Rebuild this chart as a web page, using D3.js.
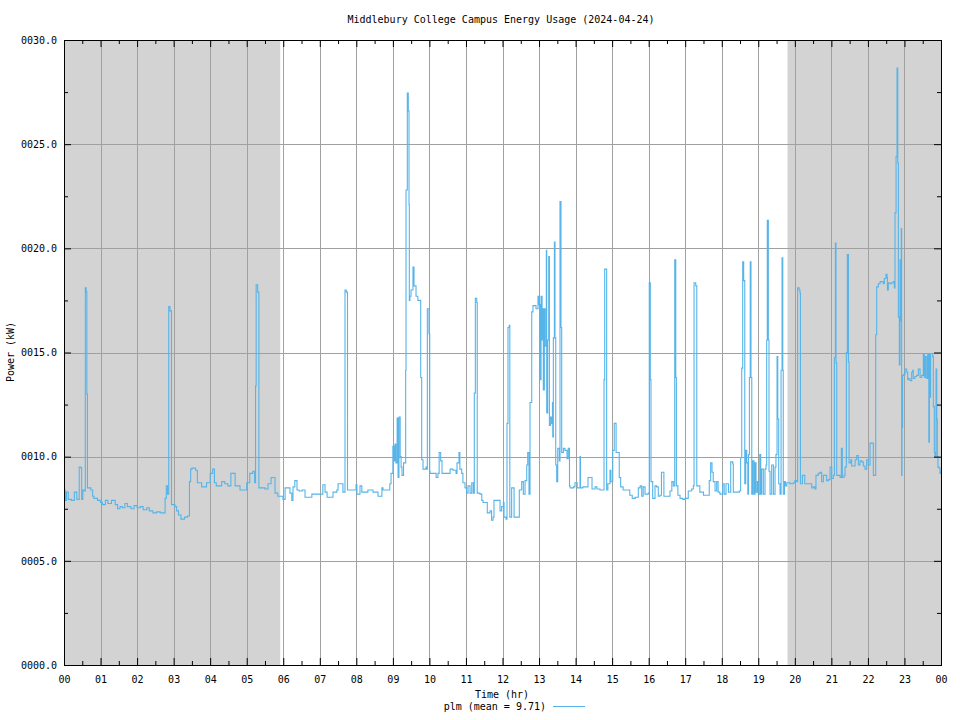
<!DOCTYPE html>
<html>
<head>
<meta charset="utf-8">
<script src="https://cdn.jsdelivr.net/npm/d3@7"></script>
<style>
  html, body { margin: 0; padding: 0; background: #fff; }
  text { font-family: "DejaVu Sans Mono", "Liberation Mono", monospace; font-size: 10px; fill: #000; }
</style>
</head>
<body>
<svg id="chart" width="960" height="720"></svg>
<script>
// ---- data ----
const chartTitle = "Middlebury College Campus Energy Usage (2024-04-24)";
const xLabel = "Time (hr)";
const yLabel = "Power (kW)";
const legendLabel = "plm (mean = 9.71)";
const hourTicks = d3.range(0, 25);          // 00 .. 00
const powerTicks = [0, 5, 10, 15, 20, 25, 30];
// night periods (minutes after midnight) shaded grey
const nightStart = [0, 1188];
const nightEnd = [355, 1440];
// [minute of day, kW]
const samples = [
[0,8.4],[2,7.9],[4,8.3],[7,7.95],[12,7.9],[17,8.3],[21,7.95],[25,9.5],[28,9.45],[29,7.95],[31,8.4],[33,8.35],
[35,18.1],[36.5,17.9],[37.5,13.0],[38.5,8.5],[44,8.4],[47,8.1],[49,8.0],[55,7.9],[60,7.8],[63,7.7],[68,7.9],
[72,7.75],[78,7.9],[84,7.7],[88,7.5],[92,7.6],[96,7.55],[100,7.75],[104,7.6],[110,7.5],[115,7.65],[120,7.55],
[125,7.6],[130,7.45],[136,7.55],[140,7.4],[146,7.3],[152,7.35],[158,7.3],[163,7.3],[166,8.0],[168,8.6],[170,8.2],
[172,17.2],[174,17.0],[176.5,7.7],[178,7.7],[182,7.6],[185,7.4],[188,7.2],[192,7.0],[198,7.1],[203,7.15],[206,8.8],
[208,9.4],[210,9.45],[216,9.35],[219,8.75],[226,8.55],[234,8.75],[240,9.2],[244,9.4],[247,8.75],[250,8.6],
[259,8.8],[264,8.7],[269,8.6],[274,9.2],[278,9.2],[281,8.6],[289,8.4],[294,8.4],[300,8.75],[305,9.2],[310,9.3],
[313,8.75],[314.5,13.4],[315.5,18.25],[318,17.9],[320,8.5],[327,8.5],[330,8.45],[335,8.7],[340,9.0],[343,9.0],
[346.5,8.25],[351,8.1],[358,8.1],[359.6,7.95],[363,8.5],[368,8.5],[371,8.25],[374,7.9],[376,8.55],[379,8.85],
[382.6,8.4],[386,8.35],[391,8.4],[395.7,8.05],[404,8.05],[407,8.2],[420,8.2],[425,8.65],[428.6,8.3],[432,8.05],
[440,8.05],[441.7,8.3],[448,8.4],[450,8.7],[456.5,8.7],[458,8.3],[461.4,18.0],[463.5,17.9],[465.5,8.4],[478,8.4],
[479.5,8.65],[481,8.2],[486,8.6],[489,8.3],[497.5,8.3],[499,8.4],[505.7,8.4],[507.4,8.3],[514,8.3],[515.6,8.1],
[519,8.1],[522,8.5],[523.8,8.4],[532,8.4],[535,8.7],[537,9.2],[540,10.5],[542,9.8],[543.5,10.6],[545,9.7],
[547,11.85],[548.5,9.0],[550,11.9],[552,10.0],[553.5,9.5],[555,9.1],[557.5,9.7],[561,14.15],[561.6,22.8],
[563.7,27.45],[565.3,26.6],[566.5,22.1],[567,17.5],[568,17.7],[569.8,18.0],[573,19.1],[574.7,18.2],[578,17.7],
[581,17.5],[585.7,13.8],[587.3,9.85],[589.5,9.4],[594.4,9.5],[595.6,9.4],[596.6,17.1],[598.2,17.1],[599.3,15.9],
[600.5,9.3],[601,9.2],[611,9.0],[614,9.2],[616,10.2],[618.5,9.8],[620.7,9.2],[629,9.2],[634,9.4],[638.7,9.35],
[643.7,9.2],[645.3,9.7],[648.6,10.2],[650,9.4],[653,9.2],[655,8.75],[658.4,8.5],[661,8.25],[663.4,8.6],[666.7,8.25],
[669.5,8.75],[672,8.25],[673.7,13.05],[675.4,17.6],[677.7,17.4],[678.5,8.25],[683,8.2],[686,7.9],[688,7.8],
[695,7.3],[699.5,7.4],[702,6.95],[704.5,7.1],[706,7.9],[713,7.9],[716,7.4],[718.6,7.6],[721.4,7.8],[722.5,7.1],
[725.8,7.0],[727.4,11.6],[729,16.2],[731,16.3],[732,7.1],[735,8.5],[737.7,8.5],[739,7.1],[745.5,7.1],[747.6,8.4],
[751.5,8.8],[754.2,8.2],[757,8.85],[759.8,9.6],[761.4,10.2],[763.5,8.2],[765.2,12.6],[768,16.95],[770,17.25],
[775,17.1],[778.3,17.7],[780,17.3],[781.6,13.7],[783.3,17.7],[785,15.6],[785.4,17.1],[787,13.2],[788.7,17.1],
[790,15.3],[792,19.9],[792.6,12.1],[794.2,15.6],[795.9,19.6],[797,11.5],[799,11.9],[800.9,11.6],[802,12.6],
[802.5,10.95],[803.5,15.7],[805.2,20.3],[806.2,15.7],[807.4,9.6],[809,8.8],[810.7,10.4],[813.3,9.8],[814.4,22.25],
[816,16.2],[817.2,10.2],[820,10.4],[822.6,10.3],[826,9.9],[828,10.4],[830,8.6],[831,8.5],[836.5,8.55],[839,8.75],
[842.6,8.5],[847.3,10.0],[848,8.5],[852,8.55],[859,8.55],[860.4,9.0],[863.7,9.0],[867,8.45],[872,8.55],[875,8.45],
[880,8.4],[885,8.4],[886.7,13.7],[887.8,19.0],[890,19.0],[891,8.4],[893,8.7],[896.5,9.35],[898,8.8],[901,10.3],
[903.5,11.6],[905,11.6],[906.5,10.2],[911,10.2],[911.7,9.0],[914,8.55],[918,8.4],[924,8.4],[929,8.15],[933,8.0],
[938,8.05],[943,8.5],[946,8.6],[948.6,8.1],[951,8.55],[954,8.2],[959.4,8.25],[961,18.35],[962.7,13.7],[963.8,8.8],
[966.6,8.0],[970.4,8.6],[973,8.55],[975.8,8.1],[978.6,8.15],[981,9.25],[984,9.25],[985,8.1],[990,8.1],[995,8.35],
[998,8.8],[1000.5,8.6],[1002.8,19.45],[1004.5,13.8],[1005.5,8.6],[1008,8.15],[1011.5,8.0],[1016,7.95],[1019.7,8.0],
[1025,8.35],[1030.7,8.45],[1033.4,8.6],[1034.5,18.35],[1037.3,18.2],[1039,8.6],[1044,8.3],[1050,8.15],[1055,8.15],
[1059.5,8.85],[1061.8,9.7],[1064,9.25],[1066,8.8],[1069,8.35],[1071.7,8.8],[1074,8.3],[1077,8.2],[1081.6,8.7],
[1084,8.2],[1087,8.7],[1091,8.3],[1094.7,9.75],[1098,9.65],[1099,8.3],[1104.6,8.3],[1109,8.35],[1111,9.95],
[1112.8,14.25],[1114.4,19.35],[1116,18.45],[1117.8,8.7],[1119.4,10.3],[1121,9.7],[1122.8,8.2],[1123.8,10.1],
[1125.4,13.8],[1126.8,19.35],[1128,13.8],[1129.3,8.2],[1131,9.8],[1133,8.2],[1134.7,9.7],[1136.3,8.3],[1138.4,8.8],
[1140,8.2],[1142.4,10.1],[1144,8.2],[1145.7,9.4],[1148.3,8.2],[1151,9.4],[1152.7,9.6],[1153.8,15.6],[1154.8,21.35],
[1156.5,15.6],[1157.6,9.3],[1159.3,8.2],[1162,9.6],[1164.8,8.2],[1167.5,9.5],[1169,10.1],[1170.8,14.8],[1172,11.8],
[1173.5,8.7],[1175.7,8.2],[1177.4,14.15],[1179,19.55],[1180.2,14.15],[1181,8.2],[1183,8.8],[1184.5,8.6],
[1186.7,8.75],[1192,8.7],[1197.5,8.75],[1200,8.85],[1203,8.8],[1204.6,18.1],[1207,18.0],[1208.5,17.85],[1209.2,8.7],
[1212.5,9.1],[1214.6,9.1],[1216.3,8.7],[1224.9,8.7],[1227.7,8.5],[1230.3,8.55],[1233,8.45],[1234.7,9.1],[1238.5,9.2],
[1241.4,9.25],[1244,8.8],[1246.8,9.1],[1249.6,9.1],[1252.3,8.85],[1255,8.9],[1257.8,9.5],[1260.6,8.95],[1263.2,9.1],
[1264.9,14.75],[1266.6,20.25],[1267.6,14.5],[1268.8,9.1],[1271.4,9.1],[1274.2,9.0],[1276.4,10.4],[1278,9.0],
[1280.8,9.1],[1282.4,9.5],[1284.6,15.0],[1286.2,19.7],[1288,14.55],[1289,9.7],[1291.8,9.85],[1293.4,9.55],
[1296,9.55],[1299,9.85],[1301.6,10.05],[1304.3,9.6],[1307,9.8],[1309.8,9.75],[1312.4,9.55],[1315.2,9.4],[1318,9.85],
[1320.6,9.6],[1323.5,10.65],[1326.2,10.65],[1328.9,9.1],[1331.6,9.1],[1332.8,15.85],[1334.4,18.15],[1337,18.3],
[1340,18.4],[1345.3,18.3],[1347,18.55],[1349.7,18.75],[1351.4,18.6],[1352,18.0],[1353.5,18.35],[1356.3,18.3],
[1359,18.35],[1361.7,18.4],[1363.4,18.1],[1364.5,21.7],[1366.2,24.4],[1367.8,28.65],[1369,24.1],[1370,16.7],
[1371.6,14.4],[1372.7,19.45],[1373.9,16.5],[1374.8,20.95],[1375.4,9.1],[1376,11.4],[1377,13.9],[1379.3,13.95],
[1381,14.2],[1383.7,14.05],[1385.4,13.7],[1386.4,13.75],[1389,13.65],[1391.9,14.05],[1393.5,14.15],[1394.5,13.75],
[1397.3,13.85],[1400,13.9],[1402.7,14.2],[1405.6,13.8],[1408.3,13.9],[1411,14.9],[1412.7,13.8],[1414.4,14.8],
[1416.6,13.75],[1418.3,14.9],[1420,10.7],[1421,14.95],[1422,12.85],[1423,14.95],[1426.3,14.8],[1427.4,12.4],
[1429,10.2],[1430,10.0],[1431.8,14.2],[1433,11.8],[1434,10.0],[1435,9.5],[1436.8,9.45],[1438.4,9.2],[1439.5,9.3],[1440,9.3]
];

// ---- layout ----
const svg = d3.select("#chart");
const L = 64, R = 941, T = 40, B = 665;
const x = d3.scaleLinear().domain([0, 1440]).range([L, R]);
const y = d3.scaleLinear().domain([0, 30]).range([B, T]);
const lineColor = "#56b4e9";
const gridColor = "#a0a0a0";

// night shading
svg.append("g").selectAll("rect").data(d3.zip(nightStart, nightEnd)).join("rect")
  .attr("x", d => x(d[0])).attr("y", T)
  .attr("width", d => x(d[1]) - x(d[0])).attr("height", B - T)
  .attr("fill", "#d3d3d3");

// grid
const grid = svg.append("g").attr("stroke", gridColor).attr("stroke-width", 1).attr("shape-rendering", "crispEdges");
grid.selectAll(".vg").data(hourTicks.slice(1, -1)).join("line")
  .attr("x1", d => Math.round(x(d * 60)) + 0.5).attr("x2", d => Math.round(x(d * 60)) + 0.5)
  .attr("y1", T).attr("y2", B);
grid.selectAll(".hg").data(powerTicks.slice(1, -1)).join("line")
  .attr("y1", d => Math.round(y(d)) + 0.5).attr("y2", d => Math.round(y(d)) + 0.5)
  .attr("x1", L).attr("x2", R);

// data line
const line = d3.line().x(d => x(d[0])).y(d => y(d[1])).curve(d3.curveStepAfter);
svg.append("path").datum(samples)
  .attr("fill", "none").attr("stroke", lineColor).attr("stroke-width", 1.1)
  .attr("d", line);

// axes (ticks inward)
const fmtY = d3.format("06.1f");
const fmtX = h => d3.format("02d")(h % 24);
const minorX = d3.range(0, 24).map(h => h * 60 + 30);
const minorY = [2.5, 7.5, 12.5, 17.5, 22.5, 27.5];

function styleAxis(g) {
  g.select(".domain").remove();
  g.selectAll("line").attr("stroke", "#000");
  g.selectAll("text").attr("font-family", "DejaVu Sans Mono, monospace").attr("font-size", 10).attr("fill", "#000");
}
// bottom major
svg.append("g").attr("transform", `translate(0,${B})`)
  .call(d3.axisBottom(x).tickValues(hourTicks.map(h => h * 60)).tickFormat(m => fmtX(m / 60)).tickSizeInner(-7).tickPadding(11))
  .call(styleAxis);
svg.append("g").attr("transform", `translate(0,${B})`)
  .call(d3.axisBottom(x).tickValues(minorX).tickFormat("").tickSizeInner(-4)).call(styleAxis);
// top
svg.append("g").attr("transform", `translate(0,${T})`)
  .call(d3.axisTop(x).tickValues(hourTicks.map(h => h * 60)).tickFormat("").tickSizeInner(-7)).call(styleAxis);
svg.append("g").attr("transform", `translate(0,${T})`)
  .call(d3.axisTop(x).tickValues(minorX).tickFormat("").tickSizeInner(-4)).call(styleAxis);
// left
svg.append("g").attr("transform", `translate(${L},0)`)
  .call(d3.axisLeft(y).tickValues(powerTicks).tickFormat(fmtY).tickSizeInner(-7).tickPadding(7))
  .call(styleAxis);
svg.append("g").attr("transform", `translate(${L},0)`)
  .call(d3.axisLeft(y).tickValues(minorY).tickFormat("").tickSizeInner(-4)).call(styleAxis);
// right
svg.append("g").attr("transform", `translate(${R},0)`)
  .call(d3.axisRight(y).tickValues(powerTicks).tickFormat("").tickSizeInner(-7)).call(styleAxis);
svg.append("g").attr("transform", `translate(${R},0)`)
  .call(d3.axisRight(y).tickValues(minorY).tickFormat("").tickSizeInner(-4)).call(styleAxis);

// border
svg.append("rect").attr("x", L + 0.5).attr("y", T + 0.5).attr("width", R - L).attr("height", B - T)
  .attr("fill", "none").attr("stroke", "#000").attr("stroke-width", 1).attr("shape-rendering", "crispEdges");

// title & labels
svg.append("text").attr("x", 501).attr("y", 23).attr("text-anchor", "middle").text(chartTitle);
svg.append("text").attr("x", 502).attr("y", 698).attr("text-anchor", "middle").text(xLabel);
svg.append("text").attr("transform", "translate(14,352) rotate(-90)").attr("text-anchor", "middle").text(yLabel);

// legend
svg.append("text").attr("x", 546).attr("y", 710).attr("text-anchor", "end").text(legendLabel);
svg.append("line").attr("x1", 553).attr("x2", 585).attr("y1", 706.5).attr("y2", 706.5)
  .attr("stroke", lineColor).attr("stroke-width", 1);
</script>
</body>
</html>
